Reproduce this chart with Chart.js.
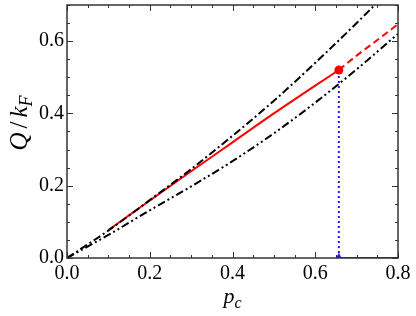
<!DOCTYPE html>
<html>
<head>
<meta charset="utf-8">
<script src="https://cdn.jsdelivr.net/npm/chart.js@4.4.1/dist/chart.umd.min.js"></script>
<style>
  body { margin: 0; background: #fff; }
  #wrap { width: 416px; height: 316px; }
</style>
</head>
<body>
<div id="wrap"><canvas id="grafica" width="416" height="316"></canvas></div>
<script>
// datos
const pMalla = [0, 0.1, 0.2, 0.3, 0.4, 0.5, 0.6, 0.7, 0.8];
const qSuperior = [0, 0.076, 0.160, 0.246, 0.338, 0.435, 0.540, 0.650, 0.765];
const qInferior = [0, 0.064, 0.132, 0.198, 0.268, 0.345, 0.430, 0.522, 0.620];

const pRojo = [0.1, 0.2, 0.3, 0.4, 0.5, 0.6, 0.657];
const qRojo = [0.077, 0.159, 0.240, 0.320, 0.400, 0.477, 0.520];
const pRojoDash = [0.657, 0.7, 0.75, 0.8];
const qRojoDash = [0.520, 0.560, 0.603, 0.647];

const pCritico = 0.657;
const qCritico = 0.52;
const pAzul = [pCritico, 0.8];

const xTicks = [0, 0.2, 0.4, 0.6, 0.8];
const yTicks = [0, 0.2, 0.4, 0.6];

const fuente = '"Liberation Serif", Tinos, "Times New Roman", Times, serif';

function puntos(xs, ys) {
    return xs.map((x, i) => ({ x: x, y: ys[i] }));
}

const marco = {
    id: 'marco',
    afterDraw(chart) {
        const ctx = chart.ctx;
        const a = chart.chartArea;
        const x = chart.scales.x;
        const y = chart.scales.y;
        ctx.save();
        ctx.strokeStyle = '#333';
        ctx.lineWidth = 1;
        // ticks menores y mayores hacia dentro
        for (let i = 0; i <= 16; i++) {
            const px = Math.round(x.getPixelForValue(i * 0.05)) + 0.5;
            const largo = (i % 4 === 0) ? 6 : 3;
            ctx.beginPath();
            ctx.moveTo(px, a.bottom); ctx.lineTo(px, a.bottom - largo);
            ctx.moveTo(px, a.top); ctx.lineTo(px, a.top + largo);
            ctx.stroke();
        }
        for (let i = 0; i <= 14; i++) {
            const py = Math.round(y.getPixelForValue(i * 0.05)) + 0.5;
            const largo = (i % 4 === 0) ? 6 : 3;
            ctx.beginPath();
            ctx.moveTo(a.left, py); ctx.lineTo(a.left + largo, py);
            ctx.moveTo(a.right, py); ctx.lineTo(a.right - largo, py);
            ctx.stroke();
        }
        ctx.lineWidth = 1.5;
        ctx.strokeRect(a.left, a.top, a.right - a.left, a.bottom - a.top);

        // titulos de ejes
        ctx.fillStyle = '#000';
        ctx.textBaseline = 'alphabetic';
        const cx = (a.left + a.right) / 2;
        ctx.font = 'italic 22px ' + fuente;
        const wp = ctx.measureText('p').width;
        ctx.font = 'italic 16px ' + fuente;
        const wc = ctx.measureText('c').width;
        let x0 = cx - (wp + wc) / 2;
        ctx.font = 'italic 22px ' + fuente;
        ctx.fillText('p', x0, 303);
        ctx.font = 'italic 16px ' + fuente;
        ctx.fillText('c', x0 + wp, 308);

        ctx.translate(27, 123);
        ctx.rotate(-Math.PI / 2);
        const hueco = 4;
        ctx.font = 'italic 25px ' + fuente;
        const wQ = ctx.measureText('Q').width;
        ctx.font = '25px ' + fuente;
        const wS = ctx.measureText('/').width;
        ctx.font = 'italic 25px ' + fuente;
        const wk = ctx.measureText('k').width;
        ctx.font = 'italic 18px ' + fuente;
        const wF = ctx.measureText('F').width;
        x0 = -(wQ + wS + wk + wF + 2 * hueco) / 2;
        ctx.font = 'italic 25px ' + fuente;
        ctx.fillText('Q', x0, 0);
        ctx.font = '25px ' + fuente;
        ctx.fillText('/', x0 + wQ + hueco, 0);
        ctx.font = 'italic 25px ' + fuente;
        ctx.fillText('k', x0 + wQ + wS + 2 * hueco, 0);
        ctx.font = 'italic 18px ' + fuente;
        ctx.fillText('F', x0 + wQ + wS + wk + 2 * hueco, 5);
        ctx.restore();
    }
};

function dibujar() {
    new Chart(document.getElementById('grafica'), {
        type: 'scatter',
        data: {
            datasets: [
                {
                    data: puntos(pMalla, qSuperior),
                    showLine: true, borderColor: '#000', borderWidth: 2,
                    borderDash: [8, 3, 2, 3], pointRadius: 0,
                    cubicInterpolationMode: 'monotone'
                },
                {
                    data: puntos(pMalla, qInferior),
                    showLine: true, borderColor: '#000', borderWidth: 2,
                    borderDash: [8, 3, 2, 3, 2, 3], pointRadius: 0,
                    cubicInterpolationMode: 'monotone'
                },
                {
                    data: puntos(pRojo, qRojo),
                    showLine: true, borderColor: '#ff0000', borderWidth: 2,
                    pointRadius: 0, cubicInterpolationMode: 'monotone'
                },
                {
                    data: puntos(pRojoDash, qRojoDash),
                    showLine: true, borderColor: '#ff0000', borderWidth: 2,
                    borderDash: [7, 4], pointRadius: 0,
                    cubicInterpolationMode: 'monotone'
                },
                {
                    data: puntos([pCritico, pCritico], [0, qCritico - 0.015]),
                    showLine: true, borderColor: '#1a1aff', borderWidth: 2,
                    borderDash: [2, 3], pointRadius: 0
                },
                {
                    data: puntos(pAzul, [0, 0]),
                    showLine: true, borderColor: '#1a1aff', borderWidth: 2,
                    pointRadius: 0
                },
                {
                    data: puntos([pCritico], [0]),
                    pointStyle: 'triangle', pointRadius: 5,
                    backgroundColor: '#1a1aff', borderWidth: 0, clip: 0
                },
                {
                    data: puntos([pCritico], [qCritico]),
                    pointRadius: 4.5, backgroundColor: '#ff0000', borderWidth: 0
                }
            ]
        },
        options: {
            responsive: false,
            animation: false,
            devicePixelRatio: 1,
            layout: { padding: { top: 4, right: 18, left: 0, bottom: 0 } },
            plugins: { legend: { display: false }, tooltip: { enabled: false } },
            scales: {
                x: {
                    type: 'linear', min: 0, max: 0.8,
                    afterFit: s => { s.height = 58; s.paddingLeft = 0; s.paddingRight = 0; },
                    afterBuildTicks: s => { s.ticks = xTicks.map(v => ({ value: v })); },
                    grid: { display: false, drawTicks: false },
                    border: { display: false },
                    ticks: {
                        color: '#000', padding: 4,
                        font: { family: fuente, size: 20 },
                        callback: v => v.toFixed(1)
                    }
                },
                y: {
                    type: 'linear', min: 0, max: 0.7,
                    afterFit: s => { s.width = 67; s.paddingTop = 0; s.paddingBottom = 0; },
                    afterBuildTicks: s => { s.ticks = yTicks.map(v => ({ value: v })); },
                    grid: { display: false, drawTicks: false },
                    border: { display: false },
                    ticks: {
                        color: '#000', padding: 3,
                        font: { family: fuente, size: 20 },
                        callback: v => v.toFixed(1)
                    }
                }
            }
        },
        plugins: [marco]
    });
}

if (document.fonts && document.fonts.load) {
    Promise.all([
        document.fonts.load('20px "Liberation Serif"'),
        document.fonts.load('italic 22px "Liberation Serif"')
    ]).then(dibujar, dibujar);
} else {
    dibujar();
}
</script>
</body>
</html>
